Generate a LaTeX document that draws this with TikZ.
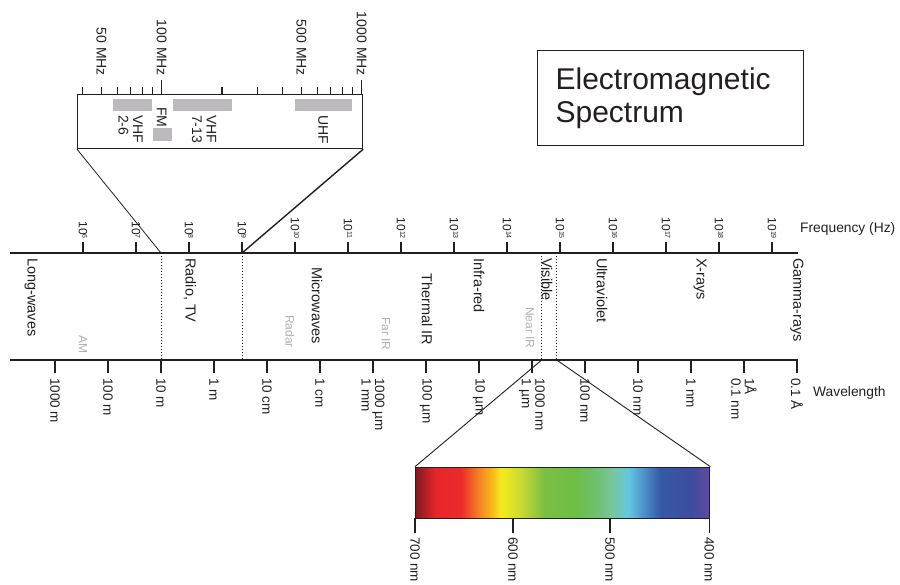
\documentclass[tikz,border=0pt]{standalone}
\usepackage{fontspec}
\setmainfont{Liberation Sans}
\usepackage{xcolor}
\usetikzlibrary{positioning,calc}
\definecolor{ink}{HTML}{231F20}
\definecolor{bandgrey}{HTML}{BCBABD}
\definecolor{faint}{HTML}{B0B0B0}
% visible spectrum stops
\definecolor{sa}{HTML}{7E1A1F}
\definecolor{sb}{HTML}{B51F25}
\definecolor{sc}{HTML}{E8252B}
\definecolor{sd}{HTML}{EC2A2A}
\definecolor{se}{HTML}{F37C22}
\definecolor{sf}{HTML}{F7B41C}
\definecolor{sg}{HTML}{F5EA1A}
\definecolor{sh}{HTML}{C9DA32}
\definecolor{si}{HTML}{7BBF42}
\definecolor{sj}{HTML}{6CBE45}
\definecolor{sk}{HTML}{6FC070}
\definecolor{sl}{HTML}{77C69A}
\definecolor{sm}{HTML}{63C7E2}
\definecolor{sn}{HTML}{4B8BC8}
\definecolor{so}{HTML}{3559A5}
\definecolor{sp}{HTML}{3E4C9E}
\definecolor{sq}{HTML}{5E4B9E}
\pgfdeclarehorizontalshading{visiblebar}{100bp}{color(0bp)=(sa); color(25bp)=(sa);
  color(26.7bp)=(sb); color(28.4bp)=(sc); color(32.7bp)=(sd); color(35.5bp)=(se);
  color(37.8bp)=(sf); color(39.5bp)=(sg); color(42.9bp)=(sh); color(46.8bp)=(si);
  color(52.2bp)=(sj); color(55.6bp)=(sk); color(58.2bp)=(sl); color(61.2bp)=(sm);
  color(64bp)=(sn); color(66.6bp)=(so); color(71.7bp)=(sp); color(75bp)=(sq);
  color(100bp)=(sq)}
\newcommand\tickfont{\fontsize{13.5}{13.5}\selectfont}
\newcommand\bandfont{\fontsize{14.5}{15}\selectfont}
\newcommand\powten[1]{10\raisebox{0.55ex}{\fontsize{7}{7}\selectfont #1}}
\tikzset{
  axisline/.style={draw=ink, line width=1.2pt},
  tickline/.style={draw=ink, line width=1.5pt},
  bordline/.style={draw=ink, dotted, line width=1pt},
  zoomline/.style={draw=ink, line width=0.9pt},
  ticklabel/.style={font=\tickfont, rotate=-90, inner sep=1pt, align=left, text=ink},
  powlabel/.style={font=\fontsize{12}{12}\selectfont, rotate=-90, inner sep=1pt, anchor=east, text=ink},
  bandlabel/.style={font=\bandfont, rotate=-90, anchor=west, inner sep=0pt, align=left, text=ink},
  sublabel/.style={font=\fontsize{12}{12}\selectfont, rotate=-90, anchor=west, inner sep=0pt, text=faint},
  radiobar/.style={fill=bandgrey, draw=none},
  axistitle/.style={font=\fontsize{13.8}{14}\selectfont, anchor=west, inner sep=0pt, text=ink},
}

\begin{document}
\begin{tikzpicture}[x=1pt, y=-1pt]
  \path[use as bounding box, clip] (0,0) rectangle (900,584);

  % title
  \node[draw=ink, line width=1.2pt, anchor=north west, minimum width=266pt, minimum height=95pt,
    inner xsep=17pt, text width=230pt, align=left, font=\fontsize{30}{33}\selectfont, text=ink]
    (title) at (537,50) {Electromagnetic\\Spectrum};

  % frequency axis
  \coordinate (fa) at (10,253);
  \coordinate (fb) at (798,253);
  \draw[axisline] (fa) -- (fb);
  \foreach \e [count=\i from 0] in {6,...,19}{
    \coordinate (f\e) at ({83+53*\i},253);
    \draw[tickline] (f\e) -- ++(0,-11);
    \node[powlabel] (fl\e) at ({83+53*\i},240) {\powten{\e}};
  }
  \node[axistitle] (freq) at (800,229) {Frequency (Hz)};

  % wavelength axis
  \coordinate (wa) at (10,360);
  \coordinate (wb) at (798,360);
  \draw[axisline] (wa) -- (wb);
  \foreach \lab [count=\i from 0] in {1000 m,100 m,10 m,1 m,10 cm,1 cm,{1000 µm\\1 mm},100 µm,
      10 µm,{1000 nm\\1 µm},100 nm,10 nm,1 nm,{1Å\\0.1 nm},0.1 Å}{
    \coordinate (w\i) at ({55+53*\i},360);
    \draw[tickline] (w\i) -- ++(0,13);
    \node[ticklabel, anchor=west] (wl\i) at ({55+53*\i},377) {\lab};
  }
  \node[axistitle] (wave) at (813,393) {Wavelength};

  % band borders
  \coordinate (radlo) at (161,253);  \coordinate (radlob) at (161,360);
  \coordinate (radhi) at (242,253);  \coordinate (radhib) at (242,360);
  \coordinate (vislo) at (541.7,253); \coordinate (vislob) at (541.7,360);
  \coordinate (vishi) at (556.7,253); \coordinate (vishib) at (556.7,360);
  \draw[bordline] (radlo) -- (radlob);
  \draw[bordline] (radhi) -- (radhib);
  \draw[bordline] (vislo) -- (vislob);
  \draw[bordline] (vishi) -- (vishib);

  % bands
  \node[bandlabel] (longw)   at (31,258)  {Long-waves};
  \node[bandlabel] (radio)   at (190,258) {Radio, TV};
  \node[bandlabel] (micro)   at (317,267) {Microwaves};
  \node[bandlabel] (thermal) at (427,273) {Thermal IR};
  \node[bandlabel] (infra)   at (479,258) {Infra-red};
  \node[bandlabel] (visible) at (547,258) {Visible};
  \node[bandlabel] (ultra)   at (602,258) {Ultraviolet};
  \node[bandlabel] (xray)    at (700,258) {X-rays};
  \node[bandlabel] (gamma)   at (797,258) {Gamma-rays};
  \node[sublabel] (am)     at (83,335)  {AM};
  \node[sublabel] (radar)  at (290,315) {Radar};
  \node[sublabel] (farir)  at (386,317) {Far IR};
  \node[sublabel] (nearir) at (530,307) {Near IR};

  % radio close-up
  \node[draw=ink, line width=1.2pt, anchor=north west, minimum width=285pt, minimum height=54pt,
    inner sep=0pt] (rbox) at (77,94) {};
  \foreach \f in {40,50,60,70,80,90,200,300,400,500,600,700,800,900}{
    \coordinate (mt\f) at ({161.7+86.86*ln(\f/100)},94);
    \draw[tickline, line width=1.2pt] (mt\f) -- ++(0,-7);
  }
  \foreach \f in {100,1000}{
    \coordinate (mt\f) at ({161.7+86.86*ln(\f/100)},94);
    \draw[tickline] (mt\f) -- ++(0,-14);
  }
  \foreach \f in {50,100,500,1000}{
    \node[ticklabel, font=\fontsize{14}{14}\selectfont, anchor=east] (ml\f)
      at ({161.7+86.86*ln(\f/100)},77) {\f\ MHz};
  }
  \fill[radiobar] (113.3,99) rectangle (151.7,111);
  \fill[radiobar] (173.3,99) rectangle (232.3,111);
  \fill[radiobar] (295,99) rectangle (352.3,111);
  \fill[radiobar] (153.3,128.3) rectangle (172.3,140.7);
  \node[bandlabel, font=\fontsize{14}{14.5}\selectfont] (vhflo) at (130.5,115) {VHF\\2-6};
  \node[bandlabel, font=\fontsize{14}{14.5}\selectfont] (fm)    at (161.7,107) {FM};
  \node[bandlabel, font=\fontsize{14}{14.5}\selectfont] (vhfhi) at (204,115) {VHF\\7-13};
  \node[bandlabel, font=\fontsize{14}{14.5}\selectfont] (uhf)   at (323,115) {UHF};
  \draw[zoomline, line width=0.8pt] (rbox.south west) -- (radlo);
  \draw[zoomline, line width=1.4pt] (rbox.south east) -- (radhi);

  % visible close-up
  \node[draw=ink, line width=1.1pt, shading=visiblebar, anchor=north west, minimum width=294.3pt,
    minimum height=51.6pt, inner sep=0pt] (bar) at (415,466.7) {};
  \draw[zoomline] (vislob) -- (bar.north west);
  \draw[zoomline] (vishib) -- (bar.north east);
  \foreach \nm/\bx in {700/415,600/513,500/610,400/709.3}{
    \coordinate (b\nm) at (\bx,518.3);
    \draw[tickline] (b\nm) -- ++(0,15);
    \node[ticklabel, anchor=west] (bl\nm) at (\bx,536) {\nm\ nm};
  }
\end{tikzpicture}
\end{document}
